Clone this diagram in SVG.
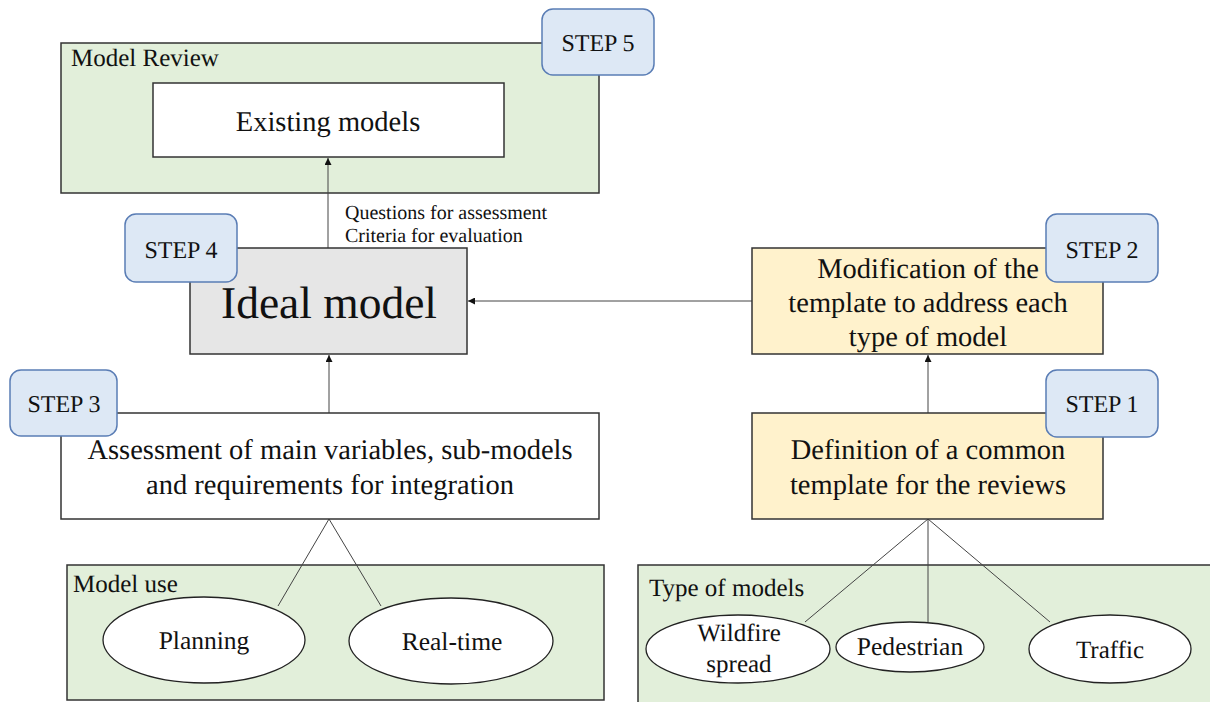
<svg xmlns="http://www.w3.org/2000/svg" width="1210" height="702" viewBox="0 0 1210 702" font-family="Liberation Serif, serif" fill="#111" font-size="44" text-rendering="geometricPrecision">
<style>
.grp{fill:#e2efda;stroke:#333;stroke-width:1.5}
.box{stroke:#333;stroke-width:1.5}
.step{fill:#dde8f5;stroke:#5a7db5;stroke-width:1.5}
.ell{fill:#fff;stroke:#222;stroke-width:1.3}
.ln{stroke:#444;stroke-width:1;fill:none}
</style>
<defs>
<marker id="ah" viewBox="0 0 10 10" refX="10" refY="5" markerWidth="7" markerHeight="7" markerUnits="userSpaceOnUse" orient="auto">
<path d="M0,0 L10,5 L0,10 z" fill="#111"/>
</marker>
</defs>
<g id="model-review">
<rect class="grp" x="61" y="43" width="538" height="150"/>
<text transform="translate(71 66) scale(0.5682)">Model Review</text>
</g>
<g id="type-of-models">
<rect class="grp" x="638" y="565" width="580" height="140"/>
<text transform="translate(649 596) scale(0.5682)">Type of models</text>
</g>
<g id="model-use">
<rect class="grp" x="67" y="565" width="537" height="135"/>
<text transform="translate(73 592) scale(0.5682)">Model use</text>
</g>
<g id="connectors">
<line class="ln" x1="328" y1="248" x2="328" y2="158" marker-end="url(#ah)"/>
<line class="ln" x1="752" y1="301" x2="468" y2="301" marker-end="url(#ah)"/>
<line class="ln" x1="329" y1="413" x2="329" y2="355" marker-end="url(#ah)"/>
<line class="ln" x1="928" y1="413" x2="928" y2="355" marker-end="url(#ah)"/>
<line class="ln" x1="329" y1="519" x2="278" y2="606"/>
<line class="ln" x1="329" y1="519" x2="381" y2="606"/>
<line class="ln" x1="928" y1="519" x2="805" y2="622"/>
<line class="ln" x1="928" y1="519" x2="928" y2="622"/>
<line class="ln" x1="928" y1="519" x2="1050" y2="622"/>
</g>
<g id="existing-models" text-anchor="middle">
<rect class="box" fill="#fff" x="153" y="83" width="351" height="74"/>
<text transform="translate(328 131) scale(0.6477)">Existing models</text>
</g>
<g id="step5" text-anchor="middle">
<rect class="step" x="542" y="9" width="112" height="66" rx="11"/>
<text transform="translate(598 51) scale(0.5455)">STEP 5</text>
</g>
<g id="questions">
<text transform="translate(345 219) scale(0.4545)">Questions for assessment</text>
<text transform="translate(345 242) scale(0.4545)">Criteria for evaluation</text>
</g>
<g id="ideal-model" text-anchor="middle">
<rect class="box" fill="#e6e6e6" x="190" y="248" width="277" height="106"/>
<text transform="translate(329 318) scale(1.034)">Ideal model</text>
</g>
<g id="step4" text-anchor="middle">
<rect class="step" x="125" y="214" width="112" height="68" rx="11"/>
<text transform="translate(181 258) scale(0.5455)">STEP 4</text>
</g>
<g id="modification" text-anchor="middle">
<rect class="box" fill="#fff2cc" x="752" y="248" width="351" height="106"/>
<text transform="translate(928 278) scale(0.6477)">Modification of the</text>
<text transform="translate(928 312) scale(0.6477)">template to address each</text>
<text transform="translate(928 346) scale(0.6477)">type of model</text>
</g>
<g id="step2" text-anchor="middle">
<rect class="step" x="1046" y="214" width="112" height="68" rx="11"/>
<text transform="translate(1102 258) scale(0.5455)">STEP 2</text>
</g>
<g id="definition" text-anchor="middle">
<rect class="box" fill="#fff2cc" x="752" y="413" width="351" height="106"/>
<text transform="translate(928 459) scale(0.6477)">Definition of a common</text>
<text transform="translate(928 494) scale(0.6477)">template for the reviews</text>
</g>
<g id="step1" text-anchor="middle">
<rect class="step" x="1046" y="370" width="112" height="67" rx="11"/>
<text transform="translate(1102 412) scale(0.5455)">STEP 1</text>
</g>
<g id="assessment" text-anchor="middle">
<rect class="box" fill="#fff" x="61" y="413" width="538" height="106"/>
<text transform="translate(330 459) scale(0.6477)">Assessment of main variables, sub-models</text>
<text transform="translate(330 494) scale(0.6477)">and requirements for integration</text>
</g>
<g id="step3" text-anchor="middle">
<rect class="step" x="10" y="370" width="107" height="66" rx="11"/>
<text transform="translate(64 412) scale(0.5455)">STEP 3</text>
</g>
<g id="planning" text-anchor="middle">
<ellipse class="ell" cx="204" cy="640" rx="101" ry="43"/>
<text transform="translate(204 649) scale(0.58)">Planning</text>
</g>
<g id="real-time" text-anchor="middle">
<ellipse class="ell" cx="451" cy="641" rx="102" ry="43"/>
<text transform="translate(452 650) scale(0.58)">Real-time</text>
</g>
<g id="wildfire" text-anchor="middle">
<ellipse class="ell" cx="738" cy="649" rx="92" ry="34"/>
<text transform="translate(739 641) scale(0.5682)">Wildfire</text>
<text transform="translate(739 672) scale(0.5682)">spread</text>
</g>
<g id="pedestrian" text-anchor="middle">
<ellipse class="ell" cx="910" cy="647" rx="74" ry="25"/>
<text transform="translate(910 655) scale(0.58)">Pedestrian</text>
</g>
<g id="traffic" text-anchor="middle">
<ellipse class="ell" cx="1110" cy="649" rx="81" ry="34"/>
<text transform="translate(1110 658) scale(0.5682)">Traffic</text>
</g>
</svg>
